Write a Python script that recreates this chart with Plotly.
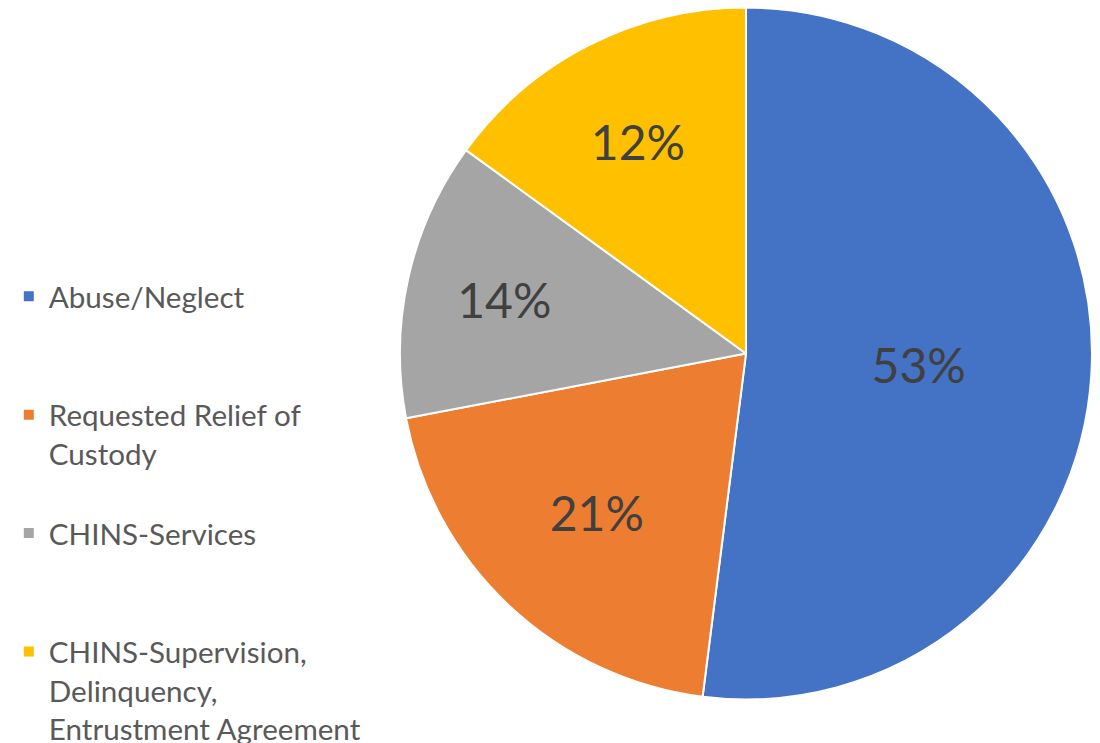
import plotly.graph_objects as go

categories = ["Abuse/Neglect", "Requested Relief of<br>Custody", "CHINS-Services",
              "CHINS-Supervision,<br>Delinquency,<br>Entrustment Agreement"]
slice_values = [52, 20, 13, 15]
label_texts = ["53%", "21%", "14%", "12%"]
colors = ["#4472C4", "#ED7D31", "#A5A5A5", "#FFC000"]

# pad every legend entry to three lines so entries sit in equal slots
legend_names = []
for c in categories:
    n = c.count("<br>") + 1
    legend_names.append(c + "<br>\u00a0" * (3 - n))

fig = go.Figure(go.Pie(
    labels=legend_names,
    values=slice_values,
    text=label_texts,
    textinfo="text",
    textposition="inside",
    insidetextorientation="horizontal",
    textfont=dict(family="Lato", size=48, color="#404040"),
    marker=dict(colors=colors, line=dict(color="white", width=2)),
    sort=False,
    direction="clockwise",
    rotation=0,
    hole=0,
    domain=dict(x=[0.3636, 0.9927], y=[0.0585, 0.9899]),
))

fig.update_layout(
    width=1100, height=743,
    margin=dict(l=0, r=0, t=0, b=0, autoexpand=False),
    paper_bgcolor="white",
    plot_bgcolor="white",
    showlegend=True,
    legend=dict(
        x=0.008, xanchor="left",
        y=0.636, yanchor="top",
        valign="top",
        font=dict(family="Lato", size=29.6, color="#595959"),
        bgcolor="rgba(0,0,0,0)",
    ),
)

fig.write_html("out.html", config={"displayModeBar": False},
               post_script="document.body.style.margin='0';document.body.style.overflow='hidden';")
